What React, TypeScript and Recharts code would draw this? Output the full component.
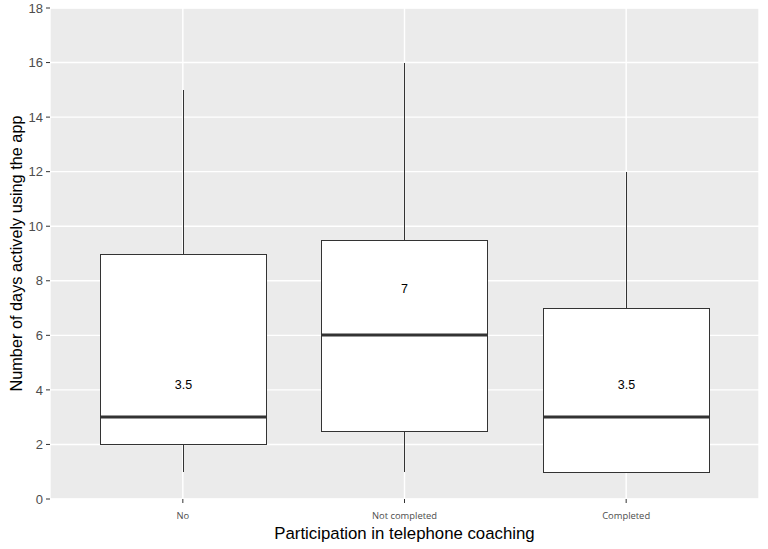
import React from "react";
import { ComposedChart, Bar, XAxis, YAxis, CartesianGrid } from "recharts";

const categories = ["No", "Not completed", "Completed"];
const whiskerLow = [1, 1, 1];
const q1 = [2, 2.5, 1];
const median = [3, 6, 3];
const q3 = [9, 9.5, 7];
const whiskerHigh = [15, 16, 12];
const means = [3.5, 7, 3.5];
const meanLabels = ["3.5", "7", "3.5"];
const yTicks = [0, 2, 4, 6, 8, 10, 12, 14, 16, 18];
const minorTicks = [1, 3, 5, 7, 9, 11, 13, 15, 17];

const data = categories.map((name, i) => ({
  name,
  low: whiskerLow[i],
  q1: q1[i],
  median: median[i],
  q3: q3[i],
  high: whiskerHigh[i],
  mean: means[i],
  meanLabel: meanLabels[i],
}));

const BoxShape = (props: any) => {
  const { x, y, width, height, payload } = props;
  const { low, high } = payload;
  const perUnit = height / (high - low);
  const yOf = (v: number) => Math.round(y + (high - v) * perUnit);
  const cx = Math.round(x + width / 2) + 0.5;
  const left = Math.round(x) + 0.5;
  const right = Math.round(x + width) + 0.5;
  return (
    <g>
      <line x1={cx} x2={cx} y1={yOf(high)} y2={yOf(payload.q3)} stroke="#333" strokeWidth={1} />
      <line x1={cx} x2={cx} y1={yOf(payload.q1)} y2={yOf(low)} stroke="#333" strokeWidth={1} />
      <rect
        x={left}
        y={yOf(payload.q3) + 0.5}
        width={right - left}
        height={yOf(payload.q1) - yOf(payload.q3)}
        fill="#fff"
        stroke="#333"
        strokeWidth={1}
      />
      <line x1={left} x2={right} y1={yOf(payload.median)} y2={yOf(payload.median)} stroke="#333" strokeWidth={3} />
      <text
        x={cx}
        y={yOf(payload.mean) - 20}
        dy={4.5}
        textAnchor="middle"
        fontSize={12.5}
        fontFamily="Liberation Sans, Arial, sans-serif"
        fill="#000"
      >
        {payload.meanLabel}
      </text>
    </g>
  );
};

const YTitle = (props: any) => {
  const { viewBox } = props;
  const cx = 16;
  const cy = viewBox.y + viewBox.height / 2;
  return (
    <text
      x={cx}
      y={cy}
      transform={`rotate(-90, ${cx}, ${cy})`}
      textAnchor="middle"
      dominantBaseline="central"
      fontSize={16.3}
      fontFamily="Liberation Sans, Arial, sans-serif"
      fill="#000"
    >
      Number of days actively using the app
    </text>
  );
};

const XTitle = (props: any) => {
  const { viewBox } = props;
  const cx = viewBox.x + viewBox.width / 2;
  return (
    <text
      x={cx}
      y={533}
      textAnchor="middle"
      dominantBaseline="central"
      fontSize={16.8}
      fontFamily="Liberation Sans, Arial, sans-serif"
      fill="#000"
    >
      Participation in telephone coaching
    </text>
  );
};

export default function App() {
  return (
    <div style={{ position: "absolute", left: 0, top: 0, background: "#fff" }}>
      <ComposedChart
        width={768}
        height={549}
        data={data}
        margin={{ top: 8, right: 9, bottom: 0, left: 0 }}
        barCategoryGap="12.5%"
      >
        <CartesianGrid fill="#EBEBEB" stroke="#fff" strokeWidth={1.4} />
        <CartesianGrid yAxisId="minor" vertical={false} stroke="#fff" strokeWidth={0.7} />
        <XAxis
          dataKey="name"
          height={50}
          padding={{ left: 22, right: 22 }}
          axisLine={false}
          tickLine={{ stroke: "#333" }}
          tickSize={4}
          tickMargin={9}
          tick={{ fontSize: 9.4, fill: "#4D4D4D", fontFamily: "Open Sans, sans-serif" }}
          label={<XTitle />}
        />
        <YAxis
          width={50}
          domain={[0, 18]}
          ticks={yTicks}
          axisLine={false}
          tickLine={{ stroke: "#333" }}
          tickSize={4}
          tickMargin={3}
          tick={{ fontSize: 13, fill: "#4D4D4D", fontFamily: "Liberation Sans, Arial, sans-serif" }}
          label={<YTitle />}
        />
        <YAxis
          yAxisId="minor"
          width={0}
          domain={[0, 18]}
          ticks={minorTicks}
          interval={0}
          tick={false}
          tickLine={false}
          axisLine={false}
        />
        <Bar
          dataKey={(d: any) => [d.low, d.high]}
          shape={<BoxShape />}
          isAnimationActive={false}
        />
      </ComposedChart>
    </div>
  );
}
